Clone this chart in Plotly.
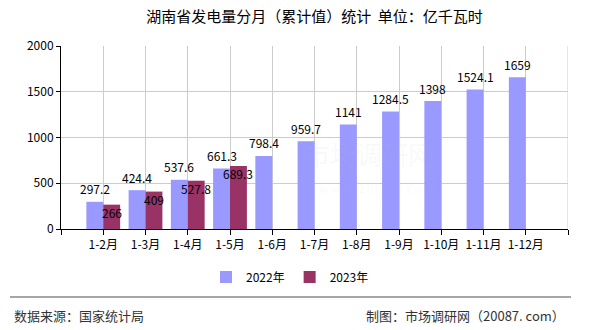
import plotly.graph_objects as go

# Cumulative monthly electricity generation, Hunan province (100 million kWh)
periods = ["1-2月", "1-3月", "1-4月", "1-5月", "1-6月", "1-7月",
           "1-8月", "1-9月", "1-10月", "1-11月", "1-12月"]
values_2022 = [297.2, 424.4, 537.6, 661.3, 798.4, 959.7, 1141, 1284.5, 1398, 1524.1, 1659]
values_2023 = [266, 409, 527.8, 689.3]

color_2022 = "#9999FF"
color_2023 = "#993366"
font_main = "Noto Sans CJK SC"

x_2022 = list(range(1, len(values_2022) + 1))
x_2023 = list(range(1, len(values_2023) + 1))

fig = go.Figure()
fig.add_trace(go.Bar(
    x=x_2022, y=values_2022, name="2022年",
    marker=dict(color=color_2022, line=dict(width=0)),
    width=0.4, offset=-0.4,
))
fig.add_trace(go.Bar(
    x=x_2023, y=values_2023, name="2023年",
    marker=dict(color=color_2023, line=dict(width=0)),
    width=0.4, offset=0.0,
))

annotations = []
# value labels: 2022 above its bar, 2023 just inside the top of its bar
for xi, v in zip(x_2022, values_2022):
    annotations.append(dict(x=xi - 0.2, y=v, text=f"{v:g}", showarrow=False,
                            yshift=13, font=dict(family=font_main, size=12, color="#000")))
for xi, v in zip(x_2023, values_2023):
    annotations.append(dict(x=xi + 0.2, y=v, text=f"{v:g}", showarrow=False,
                            yshift=-8, font=dict(family=font_main, size=12, color="#000")))

# faint site watermark
annotations.append(dict(xref="paper", yref="paper", x=0.74, y=0.30,
                        text="市场调研网", showarrow=False,
                        font=dict(family=font_main, size=26, color="rgba(190,190,200,0.09)")))
annotations.append(dict(xref="paper", yref="paper", x=0.74, y=0.17,
                        text="w w w . 2 0 0 8 7 . c o m", showarrow=False,
                        font=dict(family=font_main, size=11, color="rgba(190,190,200,0.09)")))

# footer
annotations.append(dict(xref="paper", yref="paper", x=(12 - 61) / 507, y=-86/183,
                        xanchor="left", yanchor="middle",
                        text="数据来源：国家统计局", showarrow=False,
                        font=dict(family=font_main, size=13, color="#333")))
annotations.append(dict(xref="paper", yref="paper", x=(567 - 61) / 507, y=-86/183,
                        xanchor="right", yanchor="middle",
                        text="制图：市场调研网（20087. com）", showarrow=False,
                        font=dict(family=font_main, size=13, color="#333")))

shapes = [
    # footer separator
    dict(type="line", xref="paper", yref="paper",
         x0=(10 - 61) / 507, x1=(571 - 61) / 507, y0=-68/183, y1=-68/183,
         line=dict(color="#888", width=1.5)),
    # right frame edge
    dict(type="line", xref="x", yref="paper", x0=12, x1=12, y0=0, y1=1,
         line=dict(color="#cccccc", width=1)),
]

fig.update_layout(
    width=590, height=330,
    margin=dict(l=61, r=22, t=46, b=101),
    paper_bgcolor="white", plot_bgcolor="white",
    title=dict(text="湖南省发电量分月（累计值）统计  单位：亿千瓦时",
               x=0.5, xref="paper", xanchor="center", y=1 - 17/330, yanchor="middle",
               font=dict(family=font_main, size=15, color="#000")),
    font=dict(family=font_main, size=12, color="#000"),
    barmode="overlay",
    showlegend=True,
    legend=dict(orientation="h", x=(290 - 61) / 507, xanchor="center",
                y=-48/183, yanchor="middle",
                font=dict(family=font_main, size=12, color="#000"),
                itemwidth=30, traceorder="normal"),
    annotations=annotations,
    shapes=shapes,
)
fig.update_xaxes(
    range=[0, 12], tickmode="array",
    tickvals=list(range(0, 13)),
    ticktext=[""] + periods + [""],
    showgrid=True, gridcolor="#cccccc", gridwidth=1,
    showline=True, linecolor="#000", linewidth=1,
    ticks="outside", ticklen=5, tickcolor="#000",
    tickfont=dict(family=font_main, size=12, color="#000"),
    zeroline=False, fixedrange=True,
)
fig.update_yaxes(
    range=[0, 2000], tickmode="linear", tick0=0, dtick=500,
    showgrid=True, gridcolor="#cccccc", gridwidth=1,
    showline=True, linecolor="#000", linewidth=1,
    ticks="outside", ticklen=4, tickcolor="#000",
    tickfont=dict(family=font_main, size=12, color="#000"),
    zeroline=False, fixedrange=True,
)

fig.write_html("out.html", config={"displayModeBar": False})
